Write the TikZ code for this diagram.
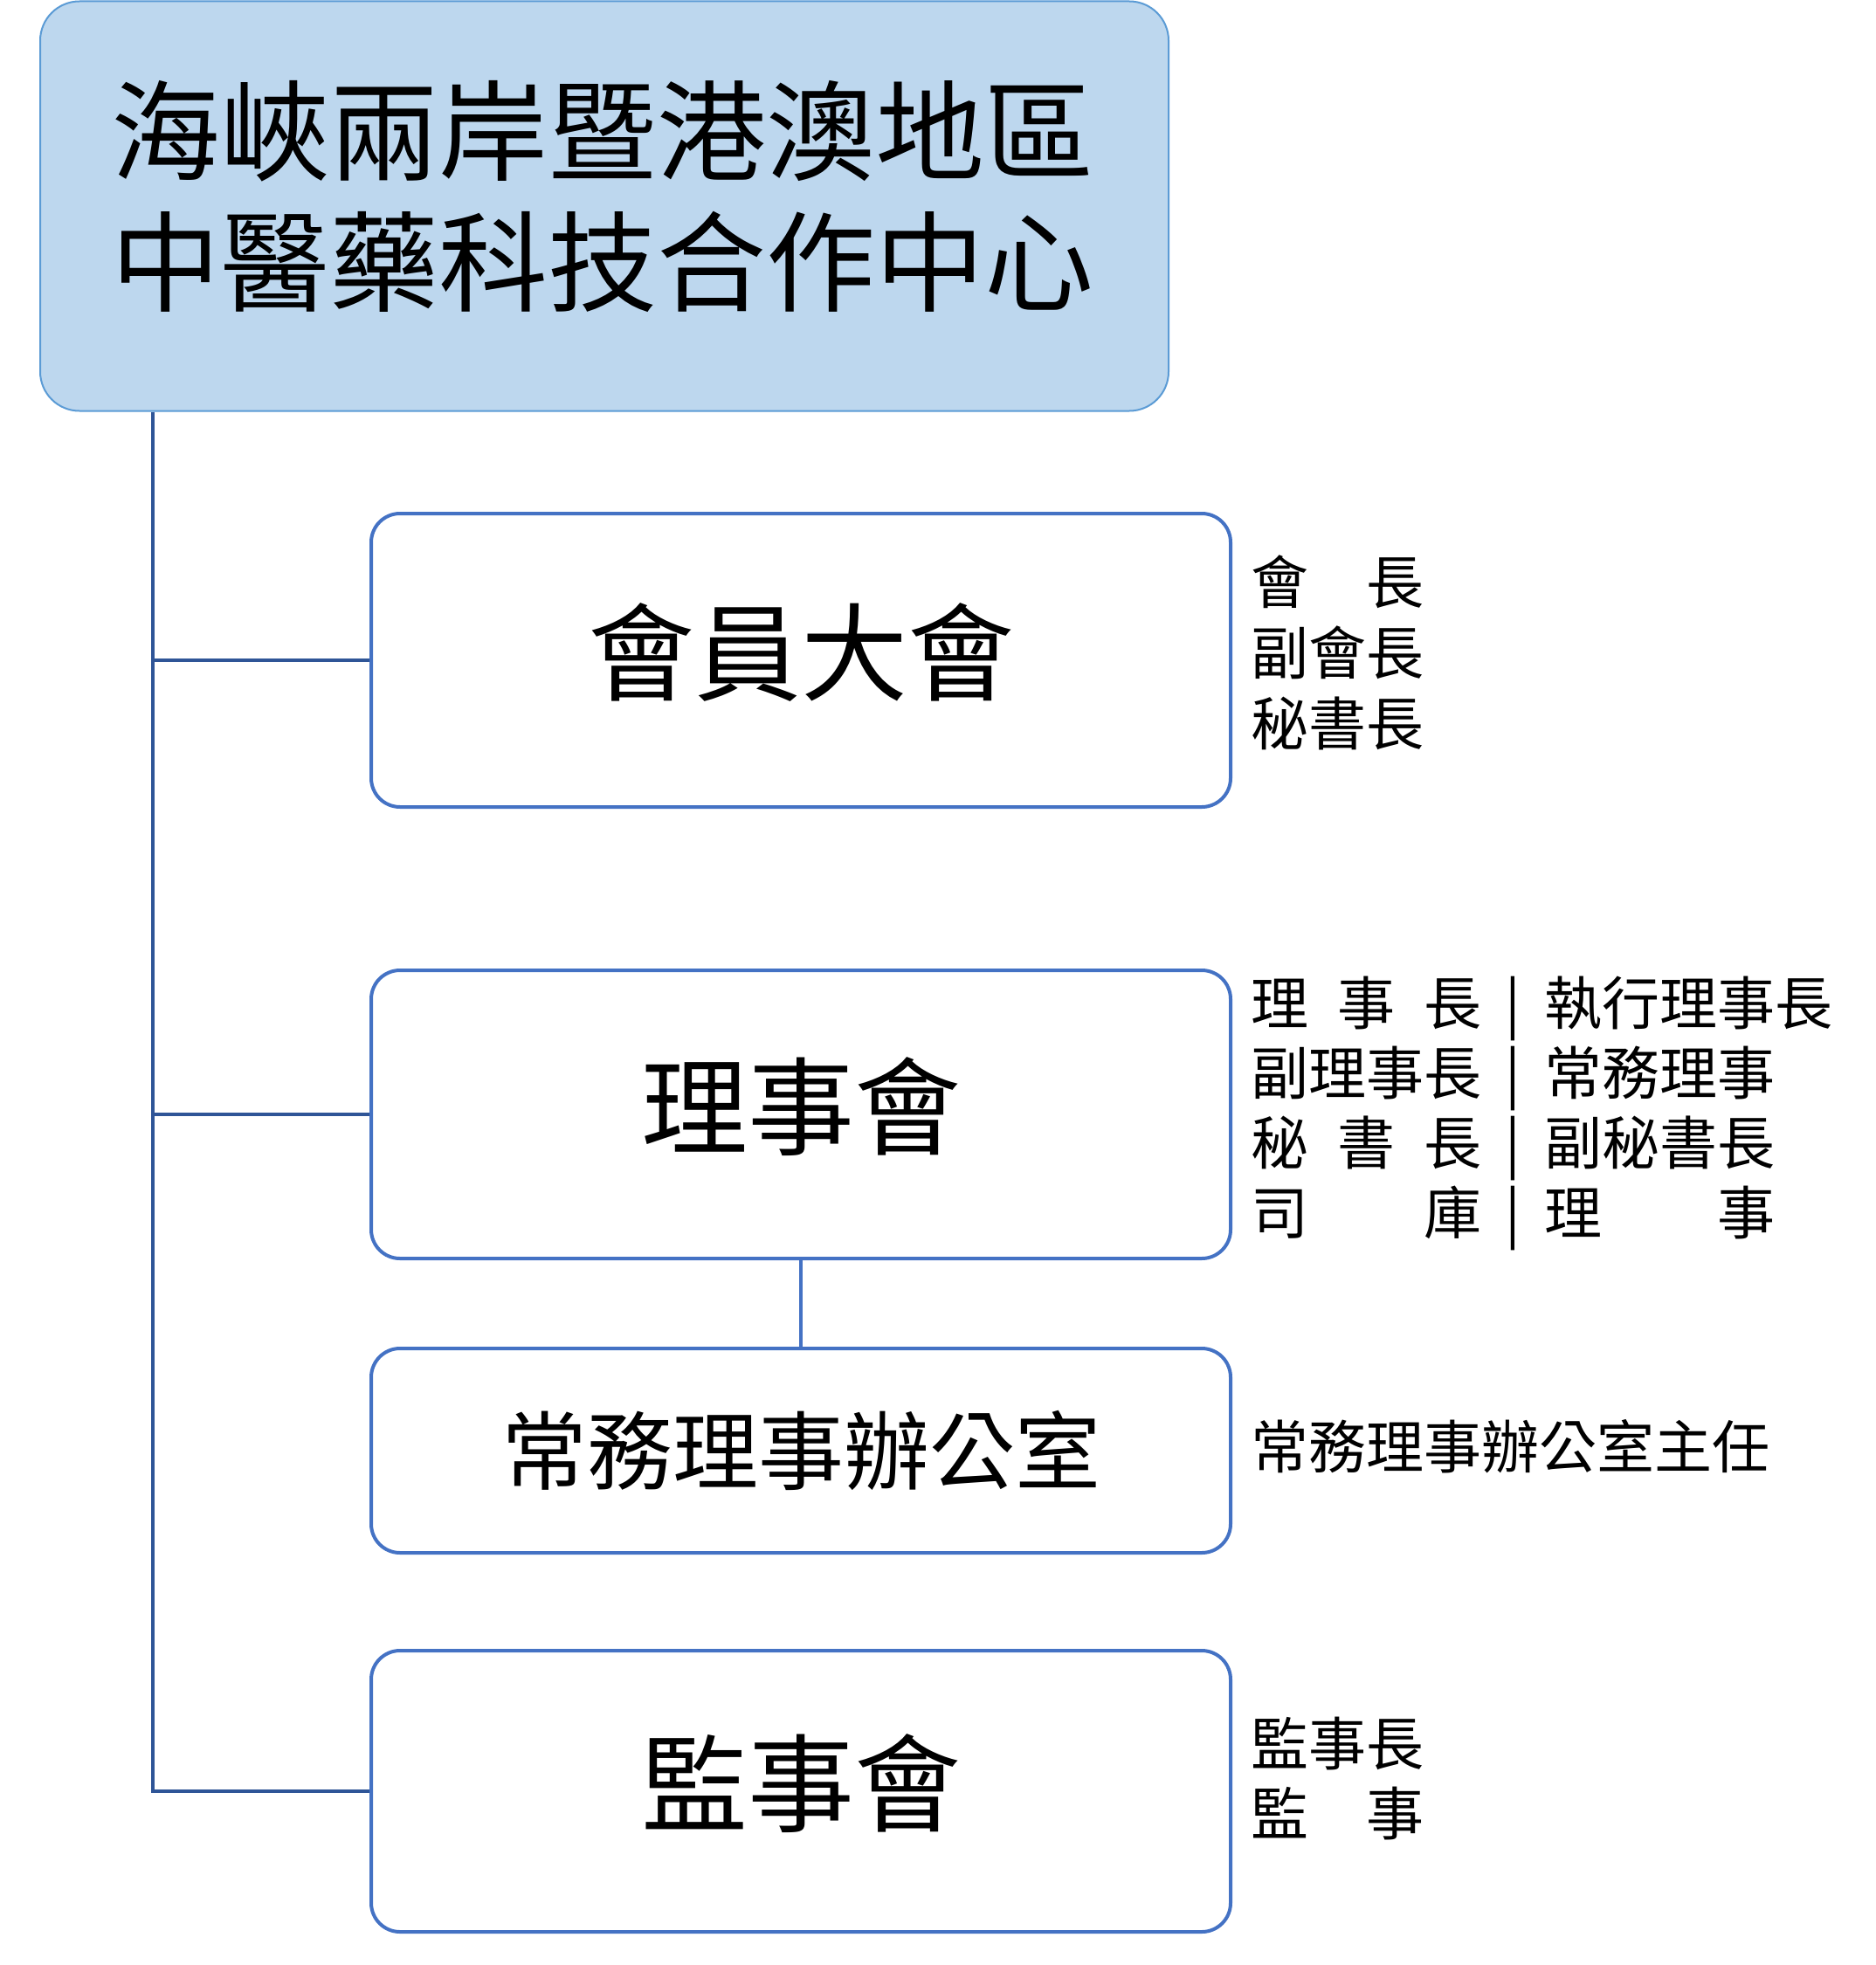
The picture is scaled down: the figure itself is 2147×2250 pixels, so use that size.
\documentclass[tikz,border=0pt]{standalone}
\usepackage{fontspec}
\setmainfont{Noto Sans CJK TC}
\definecolor{topfill}{HTML}{BDD7EE}
\definecolor{topline}{HTML}{5B9BD5}
\definecolor{boxline}{HTML}{4472C4}
\definecolor{connline}{HTML}{2F5597}
\begin{document}
\begin{tikzpicture}[x=1pt,y=-1pt,
  topbox/.style={draw=topline, fill=topfill, line width=2pt, rounded corners=45pt,
    minimum width=1292pt, minimum height=469pt, inner sep=0pt},
  orgbox/.style={draw=boxline, fill=white, line width=4pt, rounded corners=33pt,
    minimum width=984pt, inner sep=0pt},
  bigtext/.style={font=\fontsize{122}{140}\selectfont, text height=106pt, text depth=32pt},
  conn/.style={draw=connline, line width=3.5pt},
  conntwo/.style={draw=boxline, line width=4pt},
  rtext/.style={anchor=west, inner sep=0pt, font=\fontsize{66}{80}\selectfont,
    text height=58pt, text depth=8pt},
  rbar/.style={anchor=center, inner sep=0pt, font=\fontsize{66}{80}\selectfont,
    text height=58pt, text depth=8pt}]
\useasboundingbox (0,0) rectangle (2147,2250);

% top box
\node[topbox] (top) at (692,236) {};
\node[inner sep=0pt, align=center, font=\fontsize{125}{150}\selectfont] (title) at (690,225)
  {海峽兩岸暨港澳地區\\中醫藥科技合作中心};

% organisation boxes
\node[orgbox, bigtext, minimum height=336pt] (b1) at (917,756) {會員大會};
\node[orgbox, bigtext, minimum height=330pt] (b2) at (917,1276) {理事會};
\node[orgbox, font=\fontsize{98}{110}\selectfont, minimum height=234pt] (b3) at (917,1661) {常務理事辦公室};
\node[orgbox, bigtext, minimum height=322pt] (b4) at (917,2051) {監事會};

% connectors
\coordinate (vx) at (175,0);
\draw[conn] (top.south -| vx) -- (b4.west -| vx) -- (b4.west);
\draw[conn] (b1.west -| vx) -- (b1.west);
\draw[conn] (b2.west -| vx) -- (b2.west);
\draw[conntwo] (b2.south) -- (b3.north);

% members' assembly officers
\node[rtext] (m1) at (1432,666) {\makebox[3em][s]{會\hfill{}長}};
\node[rtext] (m2) at (1432,747) {副會長};
\node[rtext] (m3) at (1432,828) {秘書長};

% board officers
\node[rtext] (l1) at (1432,1148) {\makebox[4em][s]{理\hfill{}事\hfill{}長}};
\node[rtext] (l2) at (1432,1228) {副理事長};
\node[rtext] (l3) at (1432,1308) {\makebox[4em][s]{秘\hfill{}書\hfill{}長}};
\node[rtext] (l4) at (1432,1388) {\makebox[4em][s]{司\hfill{}庫}};
\node[rbar] (s1) at (1732,1148) {|};
\node[rbar] (s2) at (1732,1228) {|};
\node[rbar] (s3) at (1732,1308) {|};
\node[rbar] (s4) at (1732,1388) {|};
\node[rtext] (r1) at (1768,1148) {執行理事長};
\node[rtext] (r2) at (1768,1228) {常務理事};
\node[rtext] (r3) at (1768,1308) {副秘書長};
\node[rtext] (r4) at (1768,1388) {\makebox[4em][s]{理\hfill{}事}};

% office
\node[rtext] (o1) at (1432,1656) {常務理事辦公室主任};

% supervisors
\node[rtext] (v1) at (1432,1996) {監事長};
\node[rtext] (v2) at (1432,2076) {\makebox[3em][s]{監\hfill{}事}};
\end{tikzpicture}
\end{document}
